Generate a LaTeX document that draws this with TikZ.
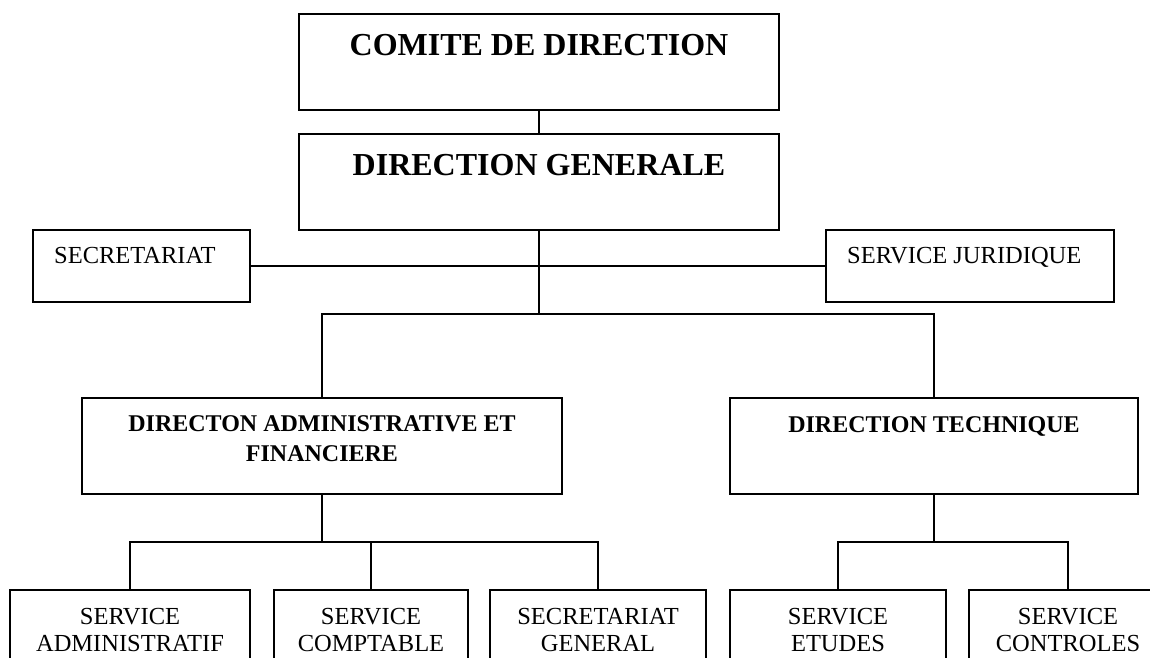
\documentclass[tikz,border=0pt]{standalone}
\usepackage{fontspec}
\setmainfont{Liberation Serif}
\begin{document}
\begin{tikzpicture}[x=1pt,y=-1pt,
  box/.style={draw=black, line width=2pt, rectangle, inner sep=0pt, outer sep=0pt, anchor=north west},
  link/.style={draw=black, line width=2pt},
  bigttl/.style={font=\bfseries\fontsize{32}{38}\selectfont, inner sep=0pt, anchor=base},
  midttl/.style={font=\bfseries\fontsize{24}{30}\selectfont, inner sep=0pt, align=center},
  lbl/.style={font=\fontsize{24.5}{27}\selectfont, inner sep=0pt, align=center}]
\useasboundingbox (0,0) rectangle (1150,657);
\clip (0,0) rectangle (1150,657);
% boxes
\node[box, minimum width=480, minimum height=96] (comite) at (299,14) {};
\node[box, minimum width=480, minimum height=96] (dg) at (299,134) {};
\node[box, minimum width=217, minimum height=72] (sec) at (33,230) {};
\node[box, minimum width=288, minimum height=72] (jur) at (826,230) {};
\node[box, minimum width=480, minimum height=96] (daf) at (82,398) {};
\node[box, minimum width=408, minimum height=96] (dt) at (730,398) {};
\node[box, minimum width=240, minimum height=110] (s1) at (10,590) {};
\node[box, minimum width=194, minimum height=110] (s2) at (274,590) {};
\node[box, minimum width=216, minimum height=110] (s3) at (490,590) {};
\node[box, minimum width=216, minimum height=110] (s4) at (730,590) {};
\node[box, minimum width=198, minimum height=110] (s5) at (969,590) {};
% texts
\node[bigttl] (tcomite) at (539,55) {COMITE DE DIRECTION};
\node[bigttl] (tdg) at (539,175) {DIRECTION GENERALE};
\node[lbl, anchor=base west] (tsec) at (54,263) {SECRETARIAT};
\node[lbl, anchor=base west] (tjur) at (847,263) {SERVICE JURIDIQUE};
\node[midttl, anchor=north] (tdaf) at (322,415) {DIRECTON ADMINISTRATIVE ET\\FINANCIERE};
\node[midttl, anchor=base] (tdt) at (934,432) {DIRECTION TECHNIQUE};
\node[lbl, anchor=north] (ts1) at (s1.north |- 0,608) {SERVICE\\ADMINISTRATIF};
\node[lbl, anchor=north] (ts2) at (s2.north |- 0,608) {SERVICE\\COMPTABLE};
\node[lbl, anchor=north] (ts3) at (s3.north |- 0,608) {SECRETARIAT\\GENERAL};
\node[lbl, anchor=north] (ts4) at (s4.north |- 0,608) {SERVICE\\ETUDES};
\node[lbl, anchor=north] (ts5) at (s5.north |- 0,608) {SERVICE\\CONTROLES};
% connectors
\coordinate (j1) at (539,314);
\coordinate (j2) at (322,542);
\coordinate (j3) at (934,542);
\draw[link] (comite.south) -- (dg.north);
\draw[link] (dg.south) -- (j1);
\draw[link] (sec.east) -- (jur.west);
\draw[link] (daf.north) |- (j1) -| (dt.north);
\draw[link] (daf.south) -- (j2);
\draw[link] (s1.north) |- (j2) -| (s3.north);
\draw[link] (s2.north) -- (s2.north |- j2);
\draw[link] (dt.south) -- (j3);
\draw[link] (s4.north) |- (j3) -| (s5.north);
\end{tikzpicture}
\end{document}
